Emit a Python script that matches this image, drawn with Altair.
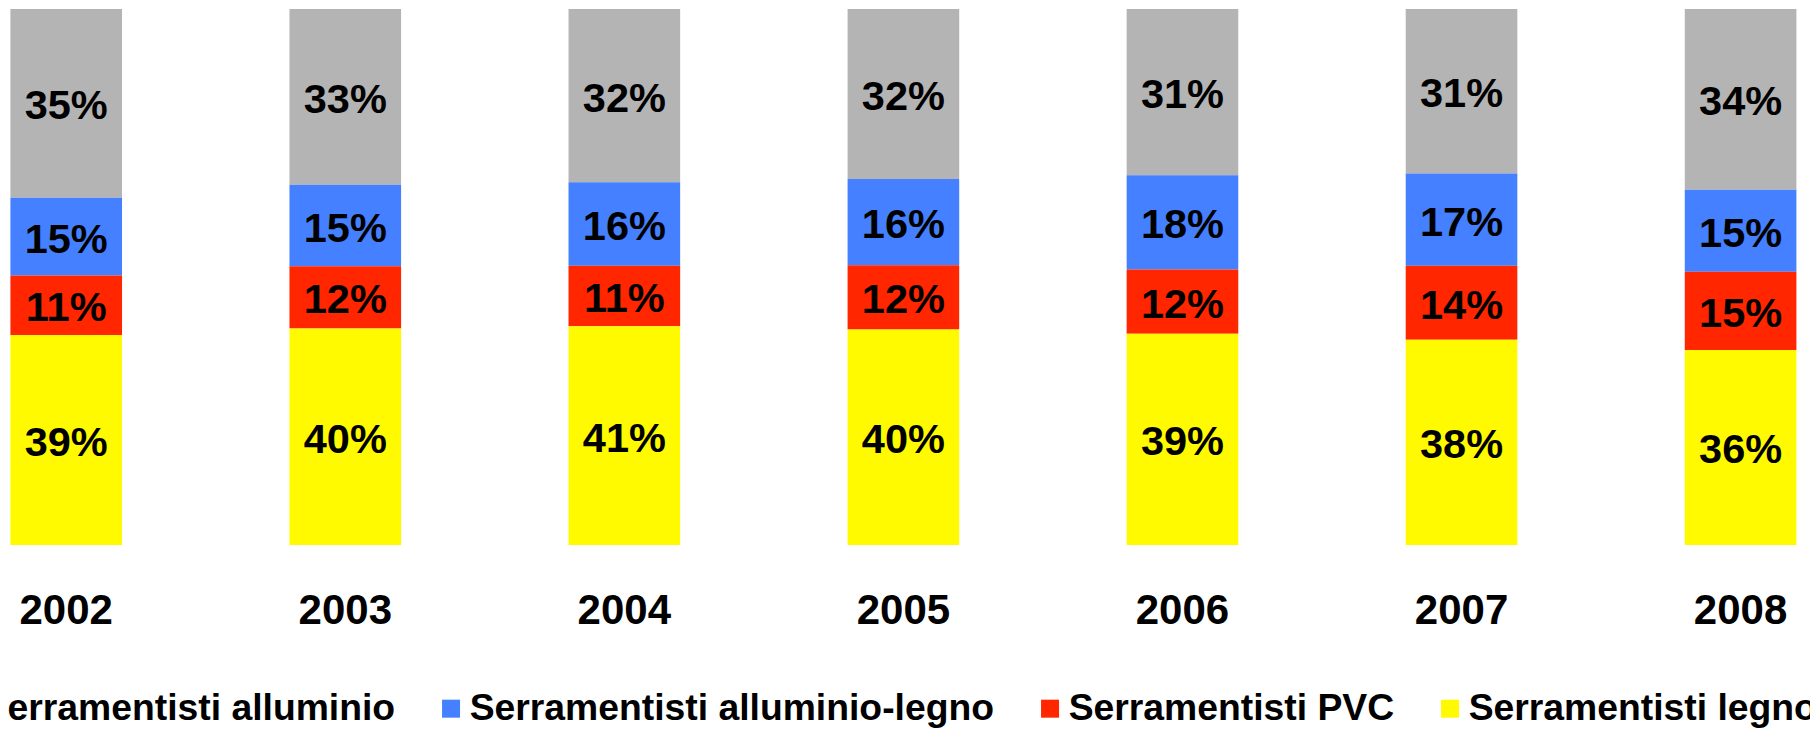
import altair as alt
import pandas as pd

years = ["2002", "2003", "2004", "2005", "2006", "2007", "2008"]
series = [
    "Serramentisti alluminio",
    "Serramentisti alluminio-legno",
    "Serramentisti PVC",
    "Serramentisti legno",
]
colors = ["#B4B4B4", "#4480FF", "#FF2600", "#FFFA00"]

alluminio = [35.2, 32.8, 32.3, 31.7, 31.0, 30.7, 33.7]
alluminio_legno = [14.5, 15.2, 15.6, 16.1, 17.6, 17.2, 15.3]
pvc = [11.1, 11.6, 11.3, 12.0, 12.0, 13.8, 14.6]
legno = [39.2, 40.4, 40.8, 40.2, 39.4, 38.3, 36.4]

# stacking order from the bottom: legno, PVC, alluminio-legno, alluminio
stack_order = [3, 2, 1, 0]
values = [alluminio, alluminio_legno, pvc, legno]

rows = []
for i, yr in enumerate(years):
    for s, vals, o in zip(series, values, stack_order):
        rows.append({"year": yr, "serie": s, "value": vals[i], "ord": o})
df = pd.DataFrame(rows)

FONT = "Liberation Sans"

base = (
    alt.Chart(df)
    .transform_stack(
        stack="value",
        as_=["y0", "y1"],
        groupby=["year"],
        sort=[alt.SortField("ord", order="ascending")],
        offset="normalize",
    )
    .transform_calculate(
        ymid="(datum.y0 + datum.y1) / 2",
        label="format(datum.value, '.0f') + '%'",
    )
)

x_enc = alt.X(
    "year:N",
    sort=years,
    scale=alt.Scale(paddingInner=0.6, paddingOuter=0),
    axis=alt.Axis(
        title=None,
        domain=False,
        ticks=False,
        tickSize=0,
        labelAngle=0,
        labelFont=FONT,
        labelFontSize=42,
        labelFontWeight="bold",
        labelColor="black",
        labelPadding=45,
    ),
)

y_scale = alt.Scale(domain=[0, 1], nice=False, zero=False)

bars = base.mark_bar().encode(
    x=x_enc,
    y=alt.Y("y0:Q", scale=y_scale, axis=None),
    y2="y1:Q",
    color=alt.Color(
        "serie:N",
        scale=alt.Scale(domain=series, range=colors),
        legend=alt.Legend(
            orient="none",
            legendX=-65,
            legendY=681,
            direction="horizontal",
            columns=4,
            title=None,
            labelFont=FONT,
            labelFontSize=37.3,
            labelFontWeight="bold",
            labelColor="black",
            labelLimit=1000,
            labelOffset=0,
            columnPadding=37,
            symbolType="square",
            symbolSize=324,
            symbolStrokeWidth=0,
            padding=0,
        ),
    ),
)

texts = base.mark_text(
    font=FONT, fontSize=41.5, fontWeight="bold", color="black", baseline="middle", dy=4
).encode(
    x=alt.X("year:N", sort=years),
    y=alt.Y("ymid:Q", scale=y_scale, axis=None),
    text="label:N",
)

chart = (
    alt.layer(bars, texts)
    .properties(
        width=1786,
        height=536,
        autosize=alt.AutoSizeParams(type="none"),
        padding={"left": 2.4, "top": 1, "right": 13.6, "bottom": 185},
    )
    .configure_view(stroke=None)
)

chart.save("out.html", embed_options={"renderer": "svg", "actions": False})
